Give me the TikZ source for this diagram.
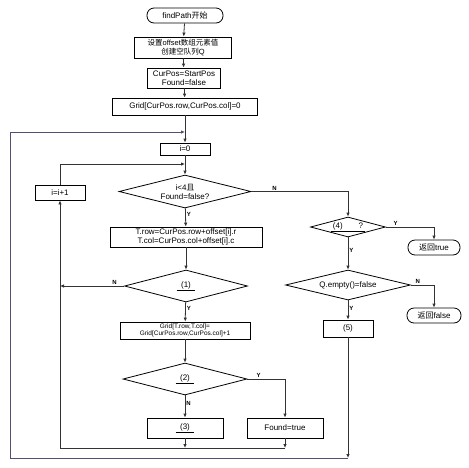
\documentclass[tikz,border=0pt]{standalone}
\usepackage{fontspec}
\setmainfont{Liberation Sans}
\newfontfamily\cjk{Noto Sans CJK SC}
\usetikzlibrary{shapes.geometric,arrows.meta}
\begin{document}
\begin{tikzpicture}[x=1pt,y=-1pt,
  font=\fontsize{8}{9}\selectfont,
  box/.style={draw,line width=0.8pt,inner sep=1pt,align=center},
  term/.style={box,rounded corners=7pt},
  dec/.style={draw,line width=0.8pt,diamond,inner sep=0pt,align=center},
  conn/.style={line width=0.8pt,draw=black!80},
  arr/.style={conn,-{Latex[length=4pt,width=3.5pt]}},
  outer/.style={line width=0.9pt,draw={rgb,255:red,80;green,80;blue,115}},
  lab/.style={font=\fontsize{6}{7}\selectfont\bfseries,inner sep=1pt}]
\useasboundingbox (0,0) rectangle (469,467);

% main column
\node[term,minimum width=76pt,minimum height=15pt] (start) at (185,15.5) {findPath{\cjk 开始}};
\node[box,minimum width=97pt,minimum height=21pt,font=\fontsize{7.5}{8.5}\selectfont] (init) at (183,47.5) {{\cjk 设置}offset{\cjk 数组元素值}\\{\cjk 创建空队列}Q};
\node[box,minimum width=73pt,minimum height=20pt] (cur) at (184,78) {CurPos=StartPos\\Found=false};
\node[box,minimum width=145pt,minimum height=17pt] (grid0) at (185,106.5) {Grid[CurPos.row,CurPos.col]=0};
\node[box,minimum width=50pt,minimum height=12pt] (izero) at (185,149) {i=0};
\node[dec,minimum width=132pt,minimum height=33pt,aspect=4] (cond) at (185,191.5) {i{<}4{\cjk 且}\\Found=false?};
\node[box,minimum width=152pt,minimum height=20pt] (trow) at (186,237) {T.row=CurPos.row+offset[i].r\\T.col=CurPos.col+offset[i].c};
\node[dec,minimum width=123pt,minimum height=32pt,aspect=3.8] (d1) at (186,286) {\underline{\ \ (1)\ \ }};
\node[box,minimum width=130pt,minimum height=17pt,font=\fontsize{6.5}{7}\selectfont] (gridT) at (185,330.5) {Grid[T.row,T.col]=\\Grid[CurPos.row,CurPos.col]+1};
\node[dec,minimum width=124pt,minimum height=32pt,aspect=3.9] (d2) at (185,379) {\underline{\ \ (2)\ \ }};
\node[box,minimum width=76pt,minimum height=20pt] (b3) at (185,428) {\underline{\ \ (3)\ \ }};
\node[box,minimum width=76pt,minimum height=20pt] (found) at (285,428) {Found=true};
\node[box,minimum width=50pt,minimum height=15pt] (inc) at (60,192.5) {i=i+1};

% right column
\node[dec,minimum width=75pt,minimum height=20pt,aspect=3.75] (d4) at (348,227) {\underline{\ (4)\hspace{16pt}?\ }};
\node[term,minimum width=52pt,minimum height=15pt] (rtrue) at (434,247.5) {{\cjk 返回}true};
\node[dec,minimum width=125pt,minimum height=30pt,aspect=4.2] (dq) at (348,285) {Q.empty()=false};
\node[term,minimum width=54pt,minimum height=15pt] (rfalse) at (434,315.5) {{\cjk 返回}false};
\node[box,minimum width=50pt,minimum height=17pt] (b5) at (348,328.5) {(5)};

% helper coordinates
\coordinate (jtop) at (185,132);
\coordinate (jin) at (185,164);
\coordinate (bot5) at (348,458);
\coordinate (ol) at (10,458);
\coordinate (olt) at (10,132);
\coordinate (j3) at (185,448);
\coordinate (jf) at (285,448);
\coordinate (jl) at (60,448);
\coordinate (n1) at (60,286);

% main flow
\draw[arr] (start) -- (init);
\draw[arr] (init) -- (cur);
\draw[arr] (cur) -- (grid0);
\draw[arr] (grid0) -- (izero);
\draw[arr] (izero) -- (cond);
\draw[arr] (cond) -- node[lab,right,pos=0.35]{Y} (trow);
\draw[arr] (trow) -- (d1);
\draw[arr] (d1) -- node[lab,right,pos=0.3]{Y} (gridT);
\draw[arr] (gridT) -- (d2);
\draw[arr] (d2) -- node[lab,right,pos=0.35]{N} (b3);
\draw[arr] (d2.east) -| node[lab,above,pos=0.15]{Y} (found);
\draw[arr] (d1.west) -- node[lab,above,pos=0.15]{N} (n1);

% inner loop
\draw[arr] (b3) -- (j3);
\draw[arr] (found) -- (jf);
\draw[conn] (jf) -- (jl);
\draw[arr] (jl) -- (inc);
\draw[arr] (inc) |- (jin);

% right branch
\draw[arr] (cond.east) -| node[lab,above,pos=0.12]{N} (d4);
\draw[arr] (d4.east) -| node[lab,above,pos=0.1]{Y} (rtrue);
\draw[arr] (d4) -- node[lab,right,pos=0.4]{Y} (dq);
\draw[arr] (dq.east) -| node[lab,above,pos=0.15]{N} (rfalse);
\draw[arr] (dq) -- node[lab,right,pos=0.4]{Y} (b5);

% outer loop
\draw[arr] (b5) -- (bot5);
\draw[outer,-{Latex[length=4pt,width=3.5pt]}] (bot5) -- (ol) -- (olt) -- (jtop);
\end{tikzpicture}
\end{document}
